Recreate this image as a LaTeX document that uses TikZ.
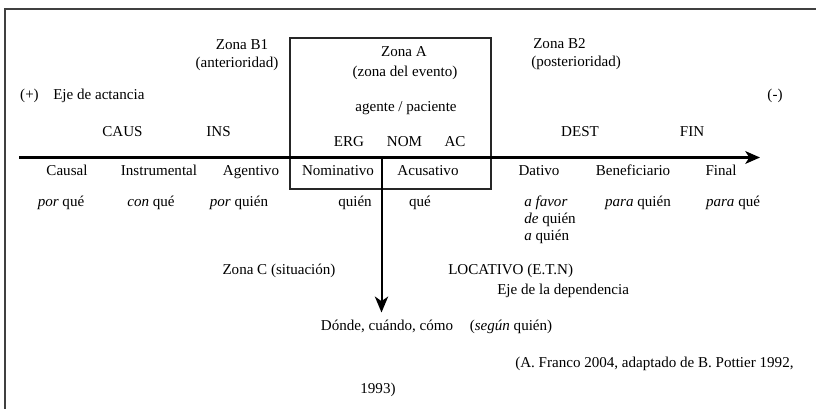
\documentclass[tikz,border=0pt]{standalone}
\usepackage{fontspec}
\setmainfont{Liberation Serif}
\usetikzlibrary{arrows.meta}
\begin{document}
\begin{tikzpicture}[x=0.75pt,y=-0.75pt,
  lbl/.style={inner sep=0pt, anchor=base, font=\fontsize{11.3}{13.5}\selectfont},
  lblw/.style={lbl, anchor=base west},
  frameline/.style={line width=0.9pt, draw=black!75},
  zonebox/.style={draw=black!85, line width=1pt, inner sep=0pt, minimum width=150.75pt, minimum height=113.25pt},
  axisline/.style={line width=1.9pt, -{Stealth[length=11pt,width=9.5pt,inset=3pt]}},
  vline/.style={line width=1.5pt, -{Stealth[length=12pt,width=10pt,inset=3.5pt]}}]
\useasboundingbox (0,0) rectangle (816,409);
% frame
\coordinate (fTR) at (816,9);
\coordinate (fTL) at (5,9);
\coordinate (fBL) at (5,409);
\draw[frameline] (fTR) -- (fTL) -- (fBL);
% zone A box
\node[zonebox] (zoneA) at (390.5,113.5) {};
% axes
\coordinate (axL) at (19,157.5);
\coordinate (axR) at (760,157.5);
\draw[axisline] (axL) -- (axR);
\coordinate (vT) at (381.5,157.5);
\coordinate (vB) at (381.5,312.5);
\draw[vline] (vT) -- (vB);
% top labels
\node[lbl] (plus) at (29.5,100) {(+)};
\node[lblw] (ejeact) at (53,100) {Eje de actancia};
\node[lbl] (zb1) at (242,50) {Zona B1};
\node[lbl] (zb1b) at (237,68) {(anterioridad)};
\node[lbl] (za) at (404,57) {Zona A};
\node[lbl] (zab) at (405,77) {(zona del evento)};
\node[lbl] (agpac) at (406,112) {agente / paciente};
\node[lblw] (zb2) at (533,49) {Zona B2};
\node[lblw] (zb2b) at (531,67) {(posterioridad)};
\node[lbl] (minus) at (775,100) {(-)};
% abbreviations
\node[lbl] (caus) at (122.5,136.7) {CAUS};
\node[lbl] (ins) at (218.5,136.7) {INS};
\node[lbl] (dest) at (580,136.7) {DEST};
\node[lbl] (fin) at (692,136.7) {FIN};
\node[lbl] (erg) at (349,147) {ERG};
\node[lbl] (nom) at (404.5,147) {NOM};
\node[lbl] (ac) at (455,147) {AC};
% cases
\node[lbl] (causal) at (67,176) {Causal};
\node[lbl] (instr) at (159,176) {Instrumental};
\node[lbl] (agent) at (251,176) {Agentivo};
\node[lbl] (nomin) at (338,176) {Nominativo};
\node[lbl] (acus) at (428,176) {Acusativo};
\node[lbl] (dat) at (539,176) {Dativo};
\node[lbl] (benef) at (633,176) {Beneficiario};
\node[lbl] (final) at (721,176) {Final};
% questions
\node[lbl] (q1) at (61,207) {\textit{por} qué};
\node[lbl] (q2) at (151,207) {\textit{con} qué};
\node[lbl] (q3) at (239,207) {\textit{por} quién};
\node[lbl] (q4) at (355,207) {quién};
\node[lbl] (q5) at (420,207) {qué};
\node[lblw] (q6a) at (524,207) {\textit{a favor}};
\node[lblw] (q6b) at (524,224) {\textit{de} quién};
\node[lblw] (q6c) at (524,241) {\textit{a} quién};
\node[lbl] (q7) at (638,207) {\textit{para} quién};
\node[lbl] (q8) at (733,207) {\textit{para} qué};
% lower
\node[lbl] (zc) at (279,275) {Zona C (situación)};
\node[lblw] (loc) at (448,275) {LOCATIVO (E.T.N)};
\node[lblw] (ejedep) at (497,295) {Eje de la dependencia};
\node[lbl] (donde) at (387,330) {Dónde, cuándo, cómo};
\node[lbl] (segun) at (511,330) {(\textit{según} quién)};
\node[lblw] (src) at (515,367) {(A. Franco 2004, adaptado de B. Pottier 1992,};
\node[lbl] (src2) at (378,393) {1993)};
\end{tikzpicture}
\end{document}
